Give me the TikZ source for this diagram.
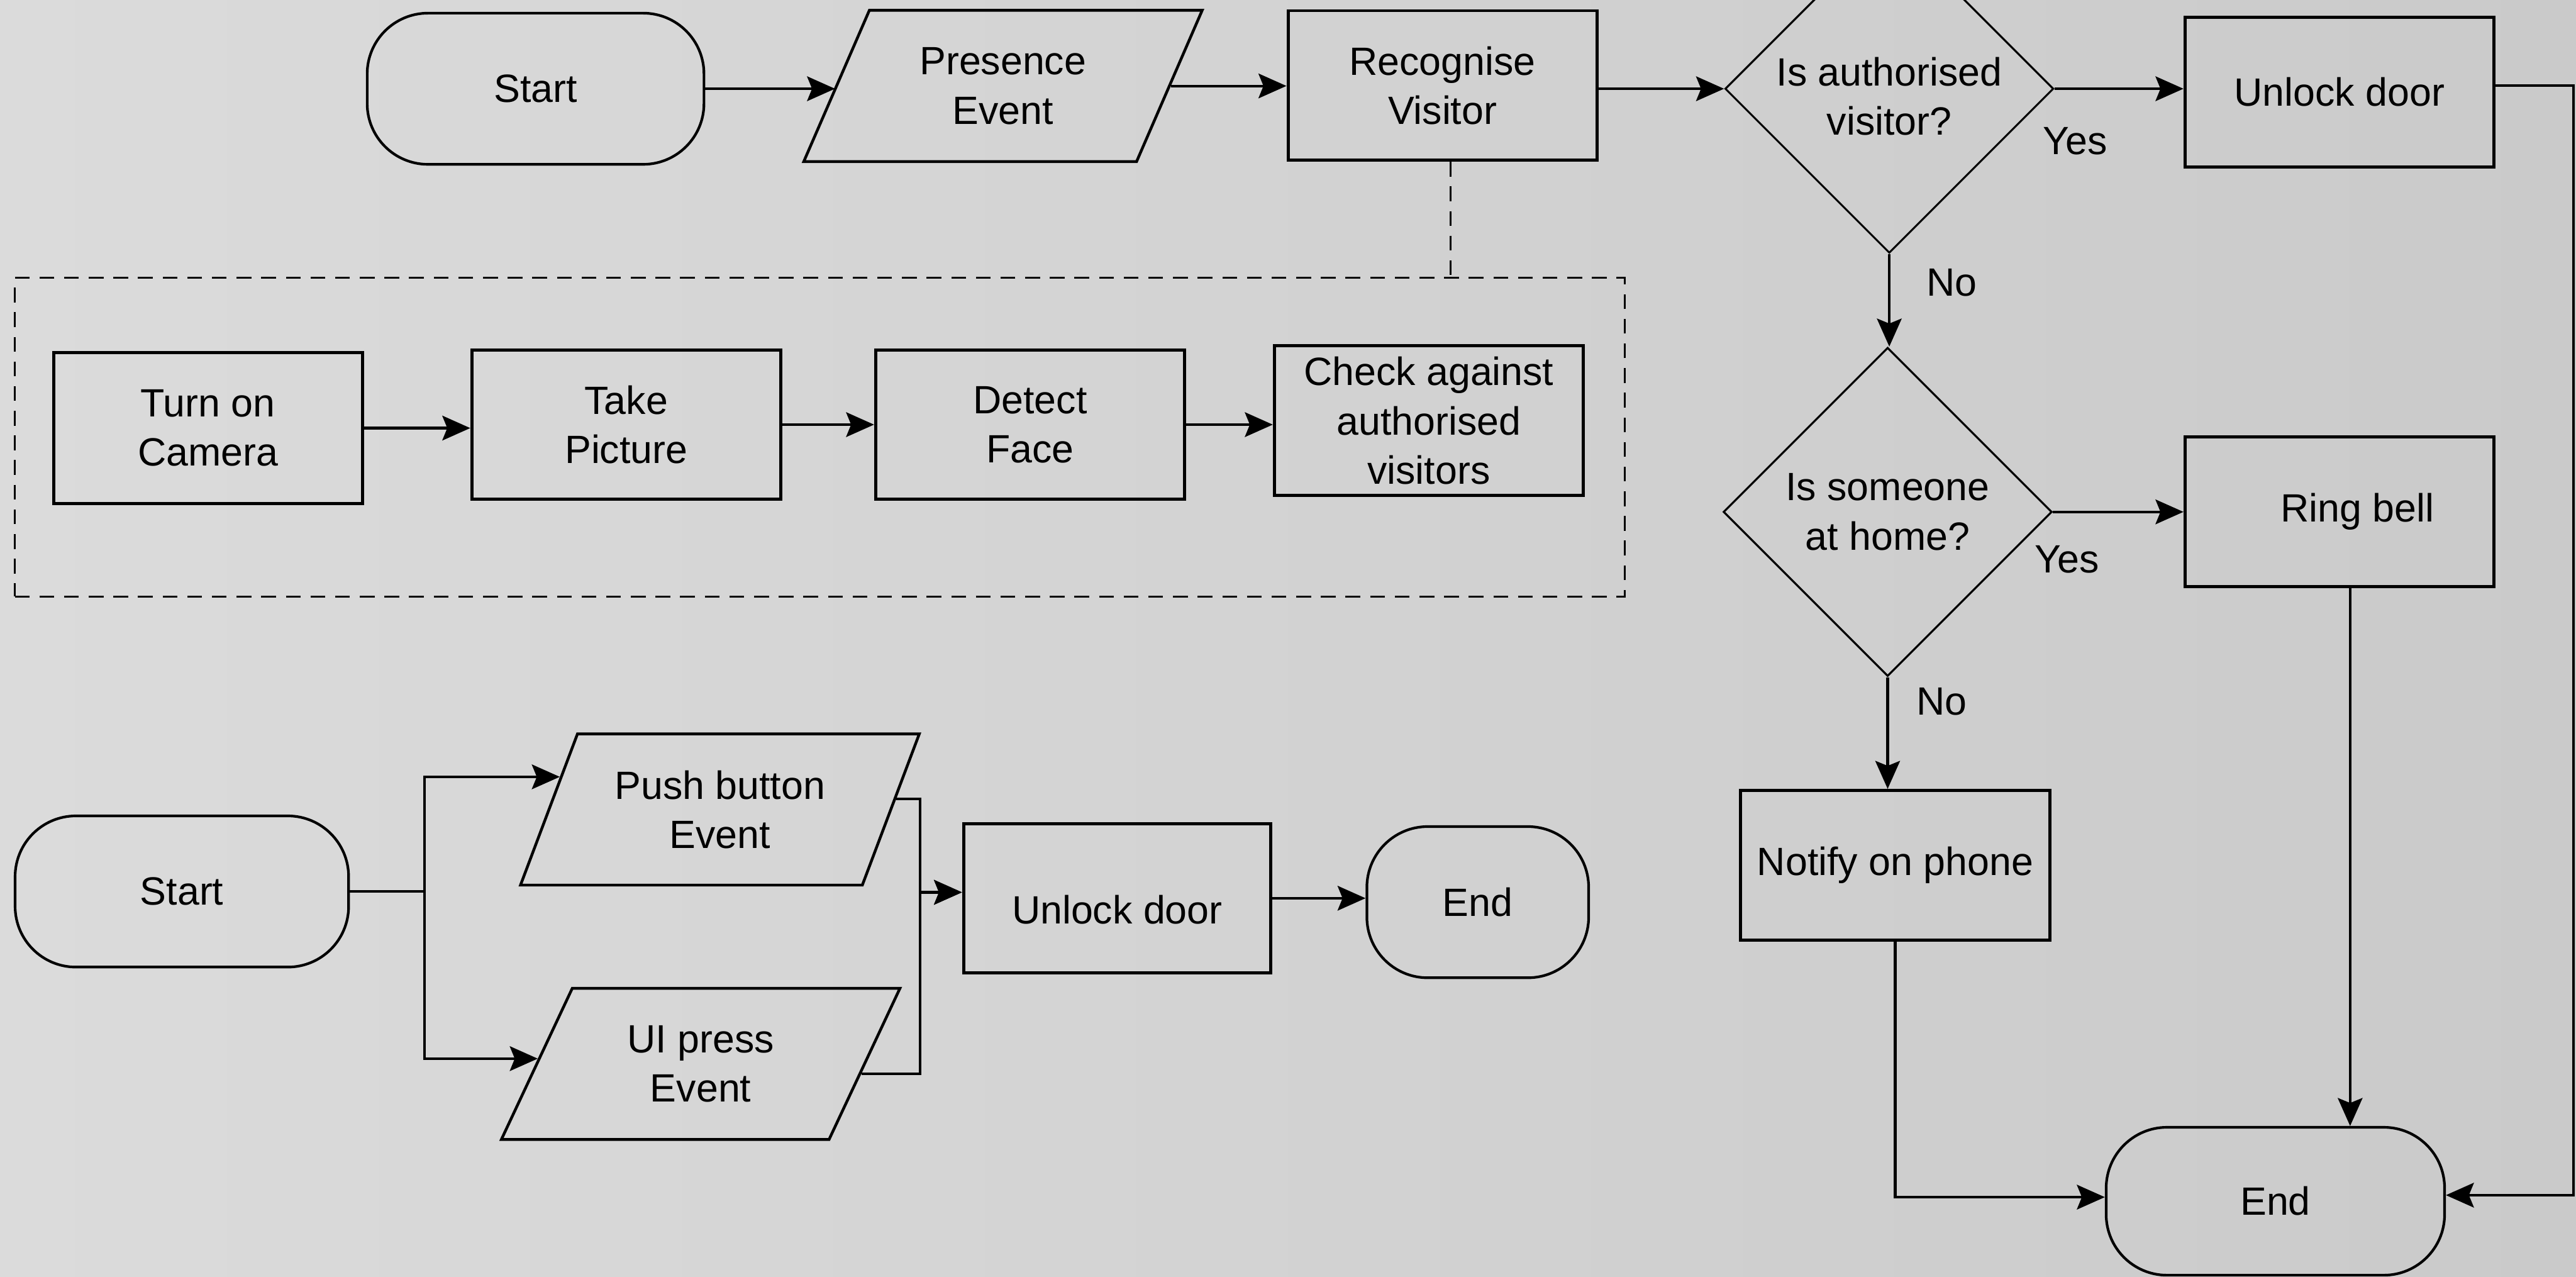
\documentclass[tikz,border=0pt]{standalone}
\usepackage{fontspec}
\setmainfont{Liberation Sans}
\usetikzlibrary{shapes.geometric,arrows.meta,calc}
\definecolor{stoneL}{RGB}{219,219,219}
\definecolor{stoneR}{RGB}{202,202,202}

\begin{document}
\begin{tikzpicture}[x=1pt,y=-1pt,
    every node/.style={font=\fontsize{24}{30}\selectfont, align=center},
    term/.style={draw, line width=1.6pt, rectangle, rounded corners=37pt, minimum width=205pt, minimum height=92pt},
    proc/.style={draw, line width=1.9pt, rectangle, inner sep=2pt, minimum width=188pt, minimum height=91pt},
    io/.style={draw, line width=1.7pt, trapezium, trapezium left angle=63.6, trapezium right angle=116.4,
        trapezium stretches=true, minimum width=243pt, minimum height=92pt},
    decision/.style={draw, line width=1.2pt, diamond, aspect=1, inner sep=0pt, minimum width=200pt, minimum height=200pt},
    arrow/.style={line width=1.6pt, -{Stealth[length=17pt,width=15pt,inset=3pt]}},
    lbl/.style={inner sep=0pt},
    dashline/.style={line width=1.3pt, dash pattern=on 9pt off 6pt}]

    % Stone background
    \useasboundingbox (0,0) rectangle (1568,776.8);
    \clip (0,0) rectangle (1568,776.8);
    \shade[left color=stoneL, right color=stoneR] (0,0) rectangle (1568,776.8);

    % Visitor flow
    \node[term] (start) at (326,54) {Start};
    \node[io] (presence) at (610.5,52.3) {Presence\\Event};
    \node[proc] (recognise) at (878,52) {Recognise\\Visitor};
    \node[decision] (authq) at (1150,54) {\rule{0pt}{26.5pt}Is authorised\\visitor?};
    \node[proc] (unlockA) at (1424,56) {Unlock door};
    \node[decision] (homeq) at (1149,311.5) {Is someone\\at home?};
    \node[proc] (ringbell) at (1424,311.5) {\hspace*{22pt}Ring bell};
    \node[proc] (notify) at (1153.6,526.5) {Notify on phone};
    \node[term, minimum width=206pt, minimum height=90pt] (finish) at (1385,731) {End};

    % Recognition steps
    \node[draw, dashline, inner sep=0pt, minimum width=980pt, minimum height=194pt] (scan) at (499,266) {};
    \node[proc, minimum height=92pt] (camera) at (126.6,260.5) {Turn on\\Camera};
    \node[proc] (picture) at (381.2,258.4) {Take\\Picture};
    \node[proc] (face) at (627,258.4) {Detect\\Face};
    \node[proc] (check) at (869.7,256) {Check against\\authorised\\visitors};

    % Button flow
    \node[term, minimum width=203pt] (startB) at (110.7,542.5) {Start};
    \node[io] (pushbtn) at (438.2,492.6) {Push button\\Event};
    \node[io] (uipress) at (426.5,647.4) {UI press\\Event};
    \node[proc, minimum width=187pt] (unlockB) at (680,546.6) {\rule{0pt}{31.5pt}Unlock door};
    \node[term, minimum width=135pt] (finishB) at (899.5,549) {End};

    % Branch labels
    \node[lbl] (yesA) at (1263,86) {Yes};
    \node[lbl] (noA) at (1188,172) {No};
    \node[lbl] (yesB) at (1258,340.5) {Yes};
    \node[lbl] (noB) at (1182,427) {No};

    % Connectors
    \draw[arrow] (start.east) -- (start.east -| presence.west);
    \draw[arrow] (presence.east) -- (presence.east -| recognise.west);
    \draw[arrow] (authq.west -| recognise.east) -- (authq.west);
    \draw[arrow] (authq.east) -- (authq.east -| unlockA.west);
    \draw[arrow] (authq.south) -- (authq.south |- homeq.north);
    \draw[arrow] (homeq.east) -- (homeq.east -| ringbell.west);
    \draw[arrow] (homeq.south) -- (homeq.south |- notify.north);
    \coordinate (rim) at (1566.6,0);
    \draw[arrow] ([yshift=4pt]unlockA.east) -- ([yshift=4pt]unlockA.east -| rim) |- ([yshift=3.7pt]finish.east);
    \draw[arrow] ([xshift=6.5pt]ringbell.south) -- ([xshift=6.5pt]ringbell.south |- finish.north);
    \draw[arrow] (notify.south) |- ([yshift=2.5pt]finish.west);
    \draw[dashline] ([xshift=5pt]recognise.south) -- ([xshift=5pt]recognise.south |- scan.north);

    \draw[arrow] (camera.east) -- (camera.east -| picture.west);
    \draw[arrow] (picture.east) -- (picture.east -| face.west);
    \draw[arrow] (face.east) -- (face.east -| check.west);

    \coordinate (fork) at (258.3,0);
    \coordinate (join) at (560.1,543);
    \coordinate (pushin) at ($(pushbtn.bottom left corner)!0.712!(pushbtn.top left corner)$);
    \coordinate (uiin) at ($(uipress.bottom left corner)!0.534!(uipress.top left corner)$);
    \coordinate (pushout) at ($(pushbtn.top right corner)!0.43!(pushbtn.bottom right corner)$);
    \coordinate (uiout) at ($(uipress.top right corner)!0.563!(uipress.bottom right corner)$);
    \draw[arrow] (startB.east) -- (startB.east -| fork) |- (pushin);
    \draw[arrow] (startB.east -| fork) |- (uiin);
    \draw[arrow] (pushout) -- (pushout -| join) |- (join -| unlockB.west);
    \draw[arrow] (uiout) -- (uiout -| join) |- (join -| unlockB.west);
    \draw[arrow] (unlockB.east) -- (unlockB.east -| finishB.west);
\end{tikzpicture}
\end{document}
